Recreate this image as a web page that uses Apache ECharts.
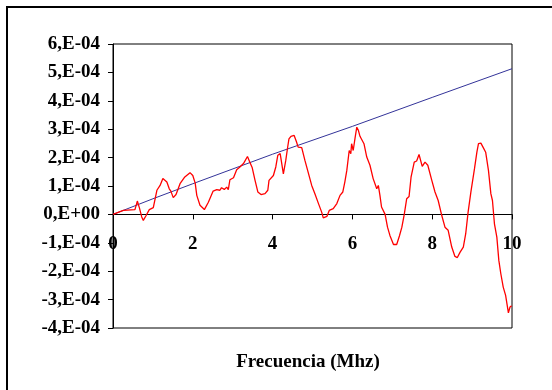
<!DOCTYPE html>
<html>
<head>
<meta charset="utf-8">
<script src="https://cdn.jsdelivr.net/npm/echarts@6/dist/echarts.min.js"></script>
<style>html,body{margin:0;padding:0;background:#fff}#c{width:552px;height:390px}</style>
</head>
<body>
<div id="c"></div>
<script>
// values in units of 1E-4
const redX = [0,0.26,0.55,0.61,0.66,0.72,0.76,0.83,0.91,1.01,1.05,1.10,1.18,1.25,1.29,1.35,1.41,1.45,1.51,1.58,1.68,1.80,1.93,2.00,2.06,2.10,2.18,2.29,2.39,2.51,2.60,2.68,2.72,2.79,2.85,2.89,2.93,3.02,3.10,3.18,3.27,3.37,3.43,3.49,3.56,3.63,3.71,3.81,3.88,3.91,4.02,4.08,4.13,4.19,4.23,4.27,4.33,4.38,4.41,4.46,4.50,4.54,4.60,4.64,4.73,4.77,4.81,4.89,4.98,5.06,5.15,5.23,5.27,5.36,5.42,5.52,5.61,5.69,5.76,5.81,5.86,5.92,5.96,5.98,6.02,6.07,6.11,6.15,6.19,6.29,6.36,6.44,6.52,6.61,6.65,6.69,6.73,6.82,6.88,6.94,7.03,7.11,7.18,7.24,7.30,7.36,7.42,7.47,7.50,7.55,7.61,7.67,7.72,7.75,7.82,7.89,7.99,8.07,8.15,8.24,8.32,8.40,8.49,8.57,8.63,8.70,8.78,8.84,8.90,8.97,9.06,9.12,9.16,9.22,9.28,9.34,9.41,9.47,9.51,9.56,9.62,9.67,9.72,9.78,9.84,9.91,9.95,9.99];
const redY = [0,0.14,0.17,0.47,0.24,-0.09,-0.21,-0.04,0.17,0.24,0.28,0.85,1.02,1.26,1.32,1.14,0.90,0.82,0.59,0.70,1.08,1.32,1.47,1.37,1.10,0.67,0.32,0.17,0.43,0.82,0.87,0.85,0.94,0.88,0.96,0.87,1.22,1.29,1.57,1.67,1.79,2.04,1.84,1.64,1.20,0.79,0.70,0.73,0.85,1.20,1.37,1.67,2.08,2.14,2.16,1.43,1.90,2.39,2.66,2.75,2.72,2.78,2.55,2.37,2.35,2.31,1.90,1.49,1.02,0.73,0.38,0.08,-0.12,-0.07,0.14,0.20,0.38,0.67,0.79,1.14,1.55,2.25,2.14,2.49,2.25,2.72,3.07,2.96,2.75,2.49,2.02,1.73,1.26,0.90,1.02,0.67,0.26,0.00,-0.45,-0.74,-1.06,-1.06,-0.75,-0.45,0,0.55,0.63,1.31,1.37,1.84,1.88,2.11,2.16,1.69,1.84,1.73,1.20,0.79,0.49,-0.04,-0.45,-0.56,-1.15,-1.48,-1.52,-1.33,-1.15,-0.68,0.08,0.79,1.61,2.19,2.49,2.51,2.35,2.19,1.55,0.73,0.49,-0.33,-0.80,-1.62,-2.09,-2.56,-2.85,-3.47,-3.26,-3.22];
const blueX = [0,1,2,4,6,8,10];
const blueY = [0,0.55,1.08,2.12,3.10,4.12,5.13];
const yTickLabels = ['-4,E-04','-3,E-04','-2,E-04','-1,E-04','0,E+00','1,E-04','2,E-04','3,E-04','4,E-04','5,E-04','6,E-04'];
const xTitle = 'Frecuencia (Mhz)';

const font = 'Liberation Serif';
const yMin = -4, yMax = 6;
const gridTop = 44, gridBottom = 62, H = 390;
const plotH = H - gridTop - gridBottom;
const zeroOffset = -plotH * (0 - yMin) / (yMax - yMin); // move x axis up to y = 0
const chart = echarts.init(document.getElementById('c'), null, {renderer: 'canvas'});
chart.setOption({
  animation: false,
  backgroundColor: '#fff',
  grid: {left: 113, top: gridTop, right: 40, bottom: gridBottom, show: true, borderColor: '#000', borderWidth: 1, backgroundColor: 'transparent'},
  xAxis: {
    type: 'value', min: 0, max: 10, interval: 2,
    offset: zeroOffset,
    axisLine: {onZero: false, lineStyle: {color: '#000', width: 1}},
    axisTick: {show: true, inside: false, length: 5, lineStyle: {color: '#000'}},
    splitLine: {show: false},
    axisLabel: {color: '#000', fontFamily: font, fontWeight: 'bold', fontSize: 19, margin: 20}
  },
  yAxis: {
    type: 'value', min: yMin, max: yMax, interval: 1,
    axisLine: {show: true, onZero: false, lineStyle: {color: '#000', width: 1}},
    axisTick: {show: true, inside: false, length: 5, lineStyle: {color: '#000'}},
    splitLine: {show: false},
    axisLabel: {color: '#000', fontFamily: font, fontWeight: 'bold', fontSize: 19, margin: 13,
      formatter: v => yTickLabels[Math.round(v) - yMin]}
  },
  series: [
    {type: 'line', data: blueX.map((x, i) => [x, blueY[i]]), showSymbol: false, lineStyle: {color: '#333399', width: 1}, z: 2},
    {type: 'line', data: redX.map((x, i) => [x, redY[i]]), showSymbol: false, lineStyle: {color: '#ff0000', width: 1.3}, z: 3}
  ],
  graphic: [
    {type: 'rect', shape: {x: 7, y: 7, width: 700, height: 600}, style: {fill: 'none', stroke: '#000', lineWidth: 2}, silent: true},
    {type: 'text', x: 308, y: 362, style: {text: xTitle, font: 'bold 19px "Liberation Serif"', fill: '#000', textAlign: 'center', textVerticalAlign: 'middle'}}
  ]
});
</script>
</body>
</html>
